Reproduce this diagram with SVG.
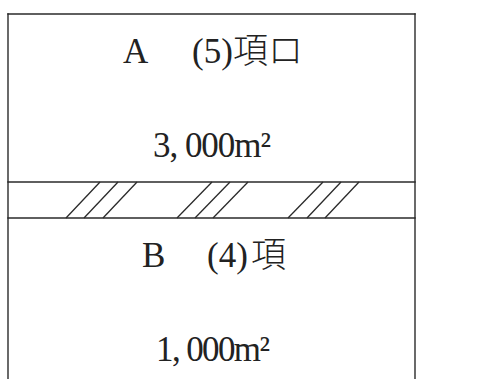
<svg xmlns="http://www.w3.org/2000/svg" width="486" height="379" viewBox="0 0 486 379">
  <style>
    .edge { stroke: #2a2a2a; stroke-width: 1.4; fill: none; stroke-linecap: square; }
    .hatch { stroke: #2a2a2a; stroke-width: 1.3; fill: none; }
    .lbl { font-family: "Liberation Serif", "Noto Sans CJK JP", serif; font-size: 35px; fill: #222; }
    .cjk { font-family: "Noto Sans CJK JP", sans-serif; font-size: 35px; font-weight: 300; }
  </style>
  <rect width="486" height="379" fill="#ffffff"/>
  <g id="outline">
    <line class="edge" x1="8" y1="14" x2="415" y2="14"/>
    <line class="edge" x1="8" y1="14" x2="8" y2="379"/>
    <line class="edge" x1="415" y1="14" x2="415" y2="379"/>
  </g>
  <g id="zone-a">
    <text class="lbl" y="63"><tspan x="123">A</tspan><tspan x="192">(5)</tspan><tspan class="cjk" x="233">項ロ</tspan></text>
    <text class="lbl" y="157" x="153" textLength="118" lengthAdjust="spacing">3, 000m²</text>
  </g>
  <g id="passage">
    <line class="edge" x1="8" y1="182" x2="415" y2="182"/>
    <line class="edge" x1="8" y1="218" x2="415" y2="218"/>
    <g id="hatching">
      <line class="hatch" x1="66" y1="218" x2="100" y2="182"/>
      <line class="hatch" x1="84" y1="218" x2="118" y2="182"/>
      <line class="hatch" x1="103" y1="218" x2="137" y2="182"/>
      <line class="hatch" x1="177" y1="218" x2="212" y2="182"/>
      <line class="hatch" x1="195" y1="218" x2="230" y2="182"/>
      <line class="hatch" x1="213" y1="218" x2="248" y2="182"/>
      <line class="hatch" x1="288" y1="218" x2="323" y2="182"/>
      <line class="hatch" x1="307" y1="218" x2="341" y2="182"/>
      <line class="hatch" x1="325" y1="218" x2="359" y2="182"/>
    </g>
  </g>
  <g id="zone-b">
    <text class="lbl" y="267"><tspan x="142">B</tspan><tspan x="207">(4)</tspan><tspan class="cjk" x="251">項</tspan></text>
    <text class="lbl" y="361" x="156" textLength="114" lengthAdjust="spacing">1, 000m²</text>
  </g>
</svg>
